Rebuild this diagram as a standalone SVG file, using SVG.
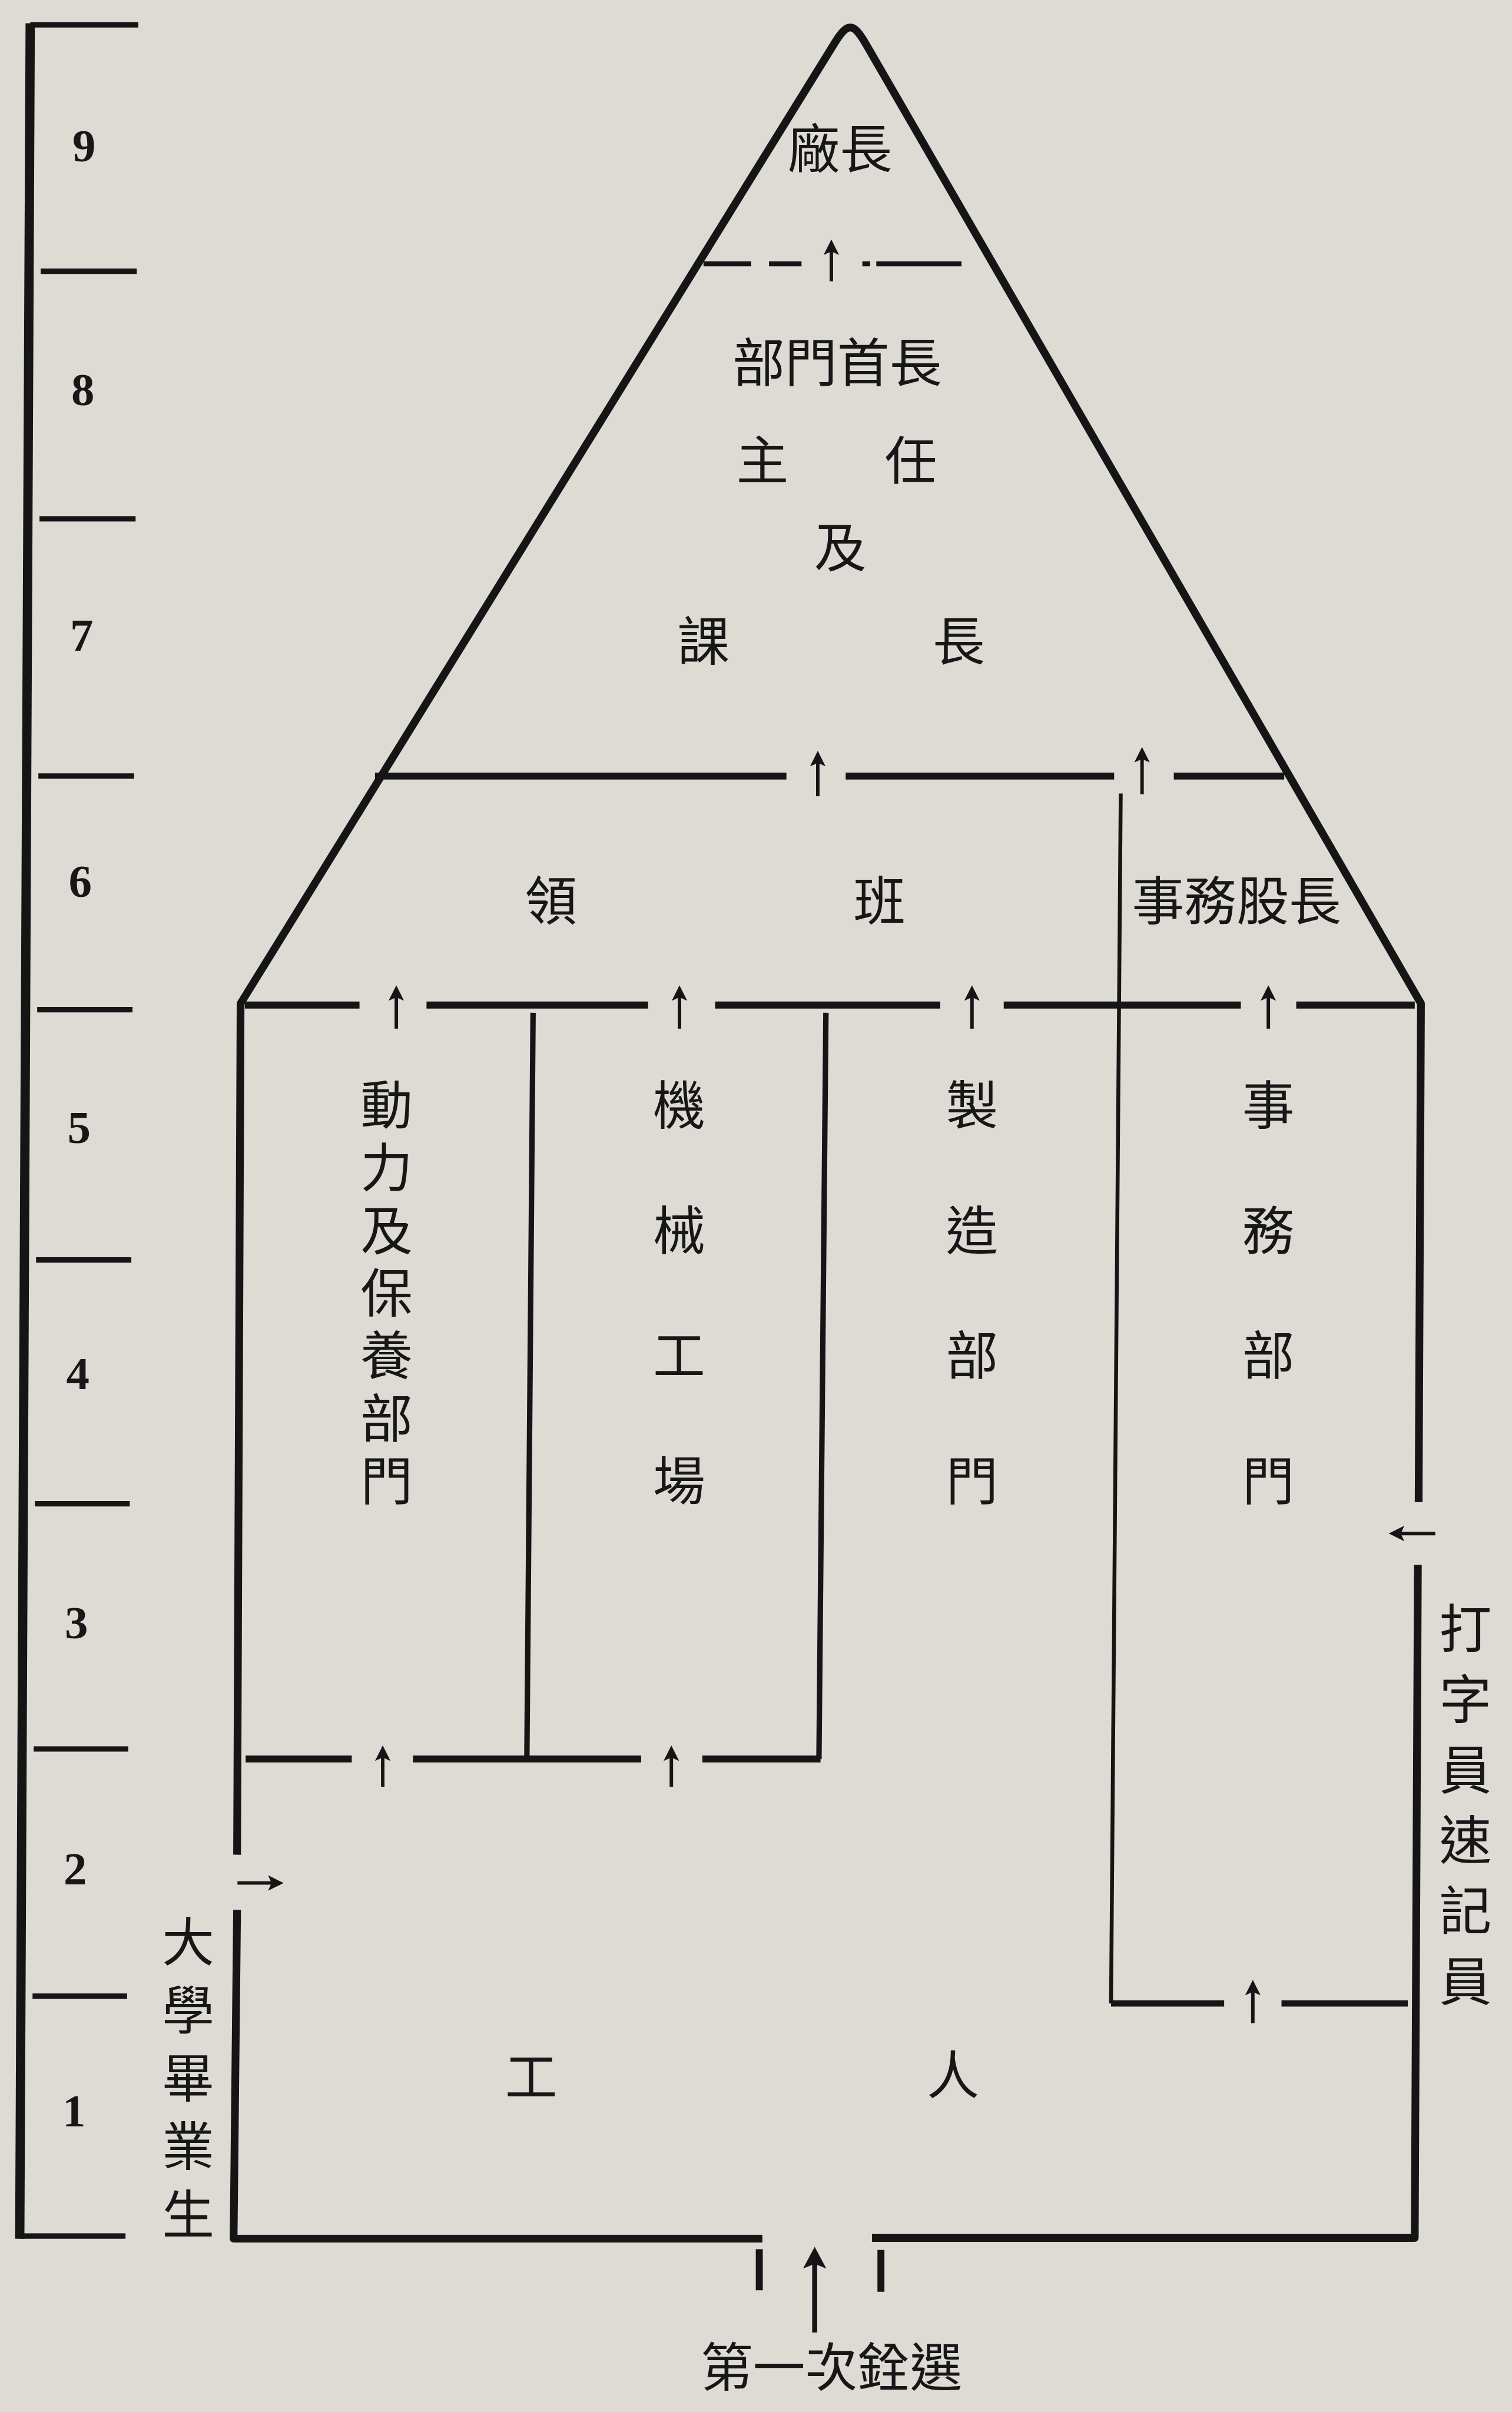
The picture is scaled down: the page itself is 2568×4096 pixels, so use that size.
<svg xmlns="http://www.w3.org/2000/svg" width="2568" height="4096" viewBox="0 0 2568 4096">
<style>
.ln{stroke:#151515;fill:none;stroke-linecap:butt;stroke-linejoin:round}
.ar{stroke:#151515;fill:none;stroke-width:9;marker-end:url(#ah)}
.t{font-family:"Noto Sans CJK TC","Noto Sans CJK JP",sans-serif;font-size:135px;fill:#171717;text-anchor:middle;dominant-baseline:central}
.v{font-family:"Noto Sans CJK TC","Noto Sans CJK JP",sans-serif;font-size:135px;fill:#171717;writing-mode:vertical-rl;text-anchor:start}
.d{font-family:"Liberation Serif",serif;font-weight:bold;font-size:120px;fill:#171717;text-anchor:middle}
</style>
<defs>
<marker id="ah" markerUnits="userSpaceOnUse" markerWidth="40" markerHeight="44" viewBox="0 0 40 44" refX="22" refY="22" orient="auto"><path d="M0,2 L40,22 L0,42 L9,22 Z" fill="#151515"/></marker>
<marker id="ahL" markerUnits="userSpaceOnUse" markerWidth="56" markerHeight="64" viewBox="0 0 56 64" refX="30" refY="32" orient="auto"><path d="M0,2 L56,32 L0,62 L12,32 Z" fill="#151515"/></marker>
</defs>
<rect width="2568" height="4096" fill="#dedbd4"/>
<g transform="scale(0.657955)">
<g id="scale">
<path class="ln" stroke-width="24" d="M78,60 L51,5778"/>
<g class="ln" stroke-width="14">
<path d="M78,64 H357"/>
<path d="M105,700 H353"/>
<path d="M102,1339 H350"/>
<path d="M99,2003 H346"/>
<path d="M96,2606 H342"/>
<path d="M93,3252 H339"/>
<path d="M90,3881 H335"/>
<path d="M87,4514 H331"/>
<path d="M84,5152 H328"/>
<path d="M51,5771 H324"/>
</g>
<text class="d" x="217" y="417">9</text>
<text class="d" x="214" y="1045">8</text>
<text class="d" x="211" y="1680">7</text>
<text class="d" x="207" y="2315">6</text>
<text class="d" x="204" y="2950">5</text>
<text class="d" x="201" y="3586">4</text>
<text class="d" x="197" y="4229">3</text>
<text class="d" x="194" y="4864">2</text>
<text class="d" x="191" y="5488">1</text>
</g>
<g id="connectors">
<path class="ln" stroke-width="20" d="M612,4787 L621,2590 L2152,115 C2188,56 2202,56 2236,115 L3668,2590 L3662,3877"/>
<path class="ln" stroke-width="20" d="M612,4929 L603,5778 L1968,5778"/>
<path class="ln" stroke-width="20" d="M2251,5776 L3652,5776 L3660,4039"/>
<path class="ln" stroke-width="18" d="M1960,5805 V5911 M2274,5807 V5915"/>
<path class="ln" stroke-width="13" d="M1816,681 H1939 M1985,681 H2069 M2226,681 H2246 M2262,681 H2482"/>
<path class="ln" stroke-width="18" d="M968,2003 H2030 M2183,2003 H2876 M3030,2003 H3315"/>
<path class="ln" stroke-width="10" d="M2893,2048 L2868,5171"/>
<path class="ln" stroke-width="16" d="M2868,5171 H3160 M3308,5171 H3634"/>
<path class="ln" stroke-width="18" d="M632,2594 H928 M1101,2594 H1673 M1846,2594 H2427 M2591,2594 H3203 M3346,2594 H3652"/>
<path class="ln" stroke-width="14" d="M1376,2614 L1360,4540 M2132,2614 L2114,4540"/>
<path class="ln" stroke-width="18" d="M634,4540 H908 M1066,4540 H1655 M1813,4540 H2118"/>
<path class="ar" d="M2146,726 V636"/>
<path class="ar" d="M2111,2055 V1956"/>
<path class="ar" d="M2948,2050 V1946"/>
<path class="ar" d="M1023,2655 V2561"/>
<path class="ar" d="M1754,2655 V2561"/>
<path class="ar" d="M2509,2655 V2561"/>
<path class="ar" d="M3274,2655 V2561"/>
<path class="ar" d="M988,4612 V4523"/>
<path class="ar" d="M1733,4612 V4523"/>
<path class="ar" d="M3234,5222 V5128"/>
<path class="ar" d="M613,4860 H714"/>
<path class="ar" d="M3705,3958 H3603"/>
<path class="ln" stroke-width="13" marker-end="url(#ahL)" d="M2103,6020 V5825"/>
</g>
<g id="n-factory-director"><text class="t" x="2168" y="375">廠長</text></g>
<g id="n-heads"><text class="t"><tspan x="2161" y="925">部門首長</tspan><tspan x="1968" y="1178">主</tspan><tspan x="2351" y="1178">任</tspan><tspan x="2169" y="1403">及</tspan><tspan x="1816" y="1645">課</tspan><tspan x="2475" y="1645">長</tspan></text></g>
<g id="n-foremen"><text class="t"><tspan x="1422" y="2315">領</tspan><tspan x="2270" y="2315">班</tspan></text></g>
<g id="n-office-chief"><text class="t" x="3192" y="2315">事務股長</text></g>
<g id="n-power"><text class="v" x="998" y="2783" letter-spacing="26.5">動力及保養部門</text></g>
<g id="n-machine"><text class="v" x="1753" y="2783" letter-spacing="188">機械工場</text></g>
<g id="n-manufacture"><text class="v" x="2509" y="2783" letter-spacing="188">製造部門</text></g>
<g id="n-office"><text class="v" x="3274" y="2783" letter-spacing="188">事務部門</text></g>
<g id="n-workers"><text class="t"><tspan x="1371" y="5350">工</tspan><tspan x="2460" y="5345">人</tspan></text></g>
<g id="n-graduates"><text class="v" x="486" y="4942" letter-spacing="41">大學畢業生</text></g>
<g id="n-typists"><text class="v" x="3783" y="4134" letter-spacing="47">打字員速記員</text></g>
<g id="n-selection"><text class="t" x="2146" y="6100" font-size="136">第一次銓選</text></g>
</g>
</svg>
